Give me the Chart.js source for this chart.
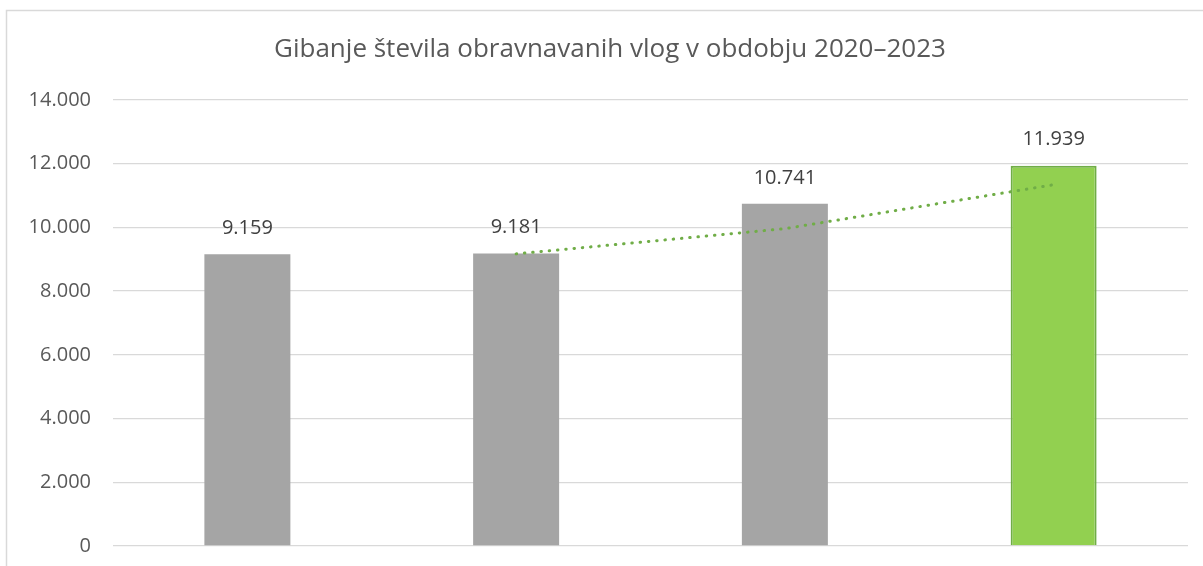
<!DOCTYPE html>
<html>
<head>
<meta charset="utf-8">
<script src="https://cdn.jsdelivr.net/npm/chart.js@4"></script>
<style>
    body { margin: 0; background: #fff; }
    #wrap { width: 1203px; height: 566px; position: relative; }
</style>
</head>
<body>
<div id="wrap"><canvas id="myChart" width="1203" height="566"></canvas></div>
<script>
var chartTitle = 'Gibanje števila obravnavanih vlog v obdobju 2020–2023';
var categories = ['2020', '2021', '2022', '2023'];
var caseCounts = [9159, 9181, 10741, 11939];
// trend line (2-period moving average)
var trendValues = [null, 9170, 9961, 11340];
var yTicks = [0, 2000, 4000, 6000, 8000, 10000, 12000, 14000];

var barColors = ['#a5a5a5', '#a5a5a5', '#a5a5a5', '#92d050'];
var barBorders = ['#a5a5a5', '#a5a5a5', '#a5a5a5', '#70ad47'];

function fmt(v) {
    return String(v).replace(/\B(?=(\d{3})+(?!\d))/g, '.');
}

// outer frame + title (title is centred on the whole Excel chart box, not the canvas)
var framePlugin = {
    id: 'frame',
    beforeDraw: function (chart) {
        var ctx = chart.ctx;
        ctx.save();
        ctx.fillStyle = '#fff';
        ctx.fillRect(0, 0, chart.width, chart.height);
        ctx.strokeStyle = '#d9d9d9';
        ctx.lineWidth = 1.5;
        ctx.strokeRect(6.5, 10.5, 1400, 800);
        ctx.font = '26px "Open Sans"';
        ctx.fillStyle = '#595959';
        ctx.textAlign = 'center';
        ctx.textBaseline = 'middle';
        ctx.fillText(chartTitle, 610, 50);
        ctx.restore();
    }
};

// value labels above bars
var labelPlugin = {
    id: 'barLabels',
    afterDatasetsDraw: function (chart) {
        var ctx = chart.ctx;
        var meta = chart.getDatasetMeta(0);
        ctx.save();
        ctx.font = '20px "Open Sans"';
        ctx.fillStyle = '#404040';
        ctx.textAlign = 'center';
        ctx.textBaseline = 'middle';
        meta.data.forEach(function (bar, i) {
            ctx.fillText(fmt(caseCounts[i]), bar.x, bar.y - 26);
        });
        ctx.restore();
    }
};

new Chart(document.getElementById('myChart'), {
    type: 'bar',
    data: {
        labels: categories,
        datasets: [{
            label: 'Vloge',
            data: caseCounts,
            backgroundColor: barColors,
            borderColor: barBorders,
            borderWidth: [0, 0, 0, 2],
            barPercentage: 0.64,
            categoryPercentage: 0.5,
            order: 2
        }, {
            type: 'line',
            label: 'Trend',
            data: trendValues,
            borderColor: '#70ad47',
            borderWidth: 3,
            borderDash: [0.5, 7.8],
            borderCapStyle: 'round',
            pointRadius: 0,
            fill: false,
            order: 1
        }]
    },
    options: {
        responsive: false,
        animation: false,
        devicePixelRatio: 1,
        layout: {
            padding: { left: 0, right: 15, top: 100, bottom: 20 }
        },
        plugins: {
            legend: { display: false },
            tooltip: { enabled: false },
            title: { display: false }
        },
        scales: {
            x: {
                display: false
            },
            y: {
                min: 0,
                max: 14000,
                afterBuildTicks: function (scale) {
                    scale.ticks = yTicks.map(function (v) { return { value: v }; });
                },
                afterFit: function (scale) {
                    scale.width = 113;
                    scale.paddingTop = 12;
                    scale.paddingBottom = 12;
                },
                border: { display: false },
                grid: { color: '#d9d9d9', lineWidth: 1.3, drawTicks: false },
                ticks: {
                    color: '#595959',
                    padding: 22,
                    font: { family: 'Open Sans', size: 20 },
                    callback: function (v) { return fmt(v); }
                }
            }
        }
    },
    plugins: [framePlugin, labelPlugin]
});
</script>
</body>
</html>
